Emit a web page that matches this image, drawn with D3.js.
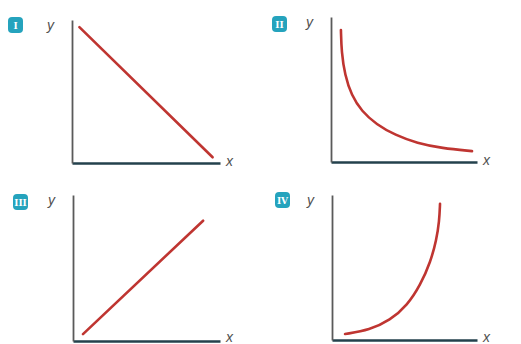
<!DOCTYPE html>
<html>
<head>
<meta charset="utf-8">
<script src="https://cdn.jsdelivr.net/npm/d3@7"></script>
<style>
  body { margin: 0; background: #fff; }
  .lbl { font-family: "Liberation Sans", Arial, sans-serif; font-style: italic; font-size: 14px; fill: #505050; }
  .badge-text { font-family: "DejaVu Serif", serif; font-weight: bold; font-size: 9px; fill: #fff; }
</style>
</head>
<body>
<div id="chart"></div>
<script>
// Step 1: data (x, y in 0..10 units)
var panelNames = ["I", "II", "III", "IV"];

var curveI = [[0.5, 9.5], [9.5, 0.4]];
var curveII = [[0.68, 9.1], [0.72, 7.6], [0.95, 6.0], [1.4, 4.6], [2.1, 3.5], [3.1, 2.6],
               [4.4, 1.85], [5.9, 1.3], [7.6, 0.95], [9.66, 0.75]];
var curveIII = [[0.68, 0.47], [8.85, 8.24]];
var curveIV = [[0.9, 0.41], [2.6, 0.7], [4.0, 1.35], [5.2, 2.4], [6.1, 3.8],
               [6.8, 5.4], [7.2, 6.9], [7.4, 8.2], [7.45, 9.4]];

var curves = [curveI, curveII, curveIII, curveIV];

// Step 2: layout of the four small panels
var svgWidth = 521;
var svgHeight = 344;

var panels = [
    { left: 72, right: 220, top: 20, bottom: 163, badgeX: 8, badgeY: 17 },
    { left: 331, right: 477, top: 17, bottom: 162, badgeX: 272, badgeY: 16 },
    { left: 73, right: 220, top: 195, bottom: 341, badgeX: 13, badgeY: 194 },
    { left: 332, right: 477, top: 195, bottom: 340, badgeX: 275, badgeY: 192 }
];

var svg = d3.select("#chart")
    .append("svg")
    .attr("width", svgWidth)
    .attr("height", svgHeight);

panels.forEach(function(p, i) {
    var g = svg.append("g");

    var xScale = d3.scaleLinear().domain([0, 10]).range([p.left, p.right]);
    var yScale = d3.scaleLinear().domain([0, 10]).range([p.bottom, p.top]);

    // axes, no ticks, just the lines
    var xAxis = g.append("g")
        .attr("transform", `translate(0, ${p.bottom})`)
        .call(d3.axisBottom(xScale).tickValues([]).tickSizeOuter(0));
    xAxis.select(".domain")
        .attr("stroke", "#23414c")
        .attr("stroke-width", 2.4);

    var yAxis = g.append("g")
        .attr("transform", `translate(${p.left}, 0)`)
        .call(d3.axisLeft(yScale).tickValues([]).tickSizeOuter(0));
    yAxis.select(".domain")
        .attr("stroke", "#5a5a5a")
        .attr("stroke-width", 1.8);

    // the red curve
    var line = d3.line()
        .x(d => xScale(d[0]))
        .y(d => yScale(d[1]))
        .curve(d3.curveBasis);

    g.append("path")
        .datum(curves[i])
        .attr("fill", "none")
        .attr("stroke", "#bf3531")
        .attr("stroke-width", 2.6)
        .attr("stroke-linecap", "round")
        .attr("d", line);

    // axis letters
    g.append("text")
        .attr("class", "lbl")
        .attr("x", p.left - 25)
        .attr("y", p.top + 10)
        .text("y");

    g.append("text")
        .attr("class", "lbl")
        .attr("x", p.right + 6)
        .attr("y", Math.min(p.bottom + 3, 342))
        .text("x");

    // numbered badge
    g.append("rect")
        .attr("x", p.badgeX)
        .attr("y", p.badgeY)
        .attr("width", 15)
        .attr("height", 16)
        .attr("rx", 4)
        .attr("fill", "#25a3bd");

    g.append("text")
        .attr("class", "badge-text")
        .attr("x", p.badgeX + 7.5)
        .attr("y", p.badgeY + 11.5)
        .attr("text-anchor", "middle")
        .text(panelNames[i]);
});
</script>
</body>
</html>
